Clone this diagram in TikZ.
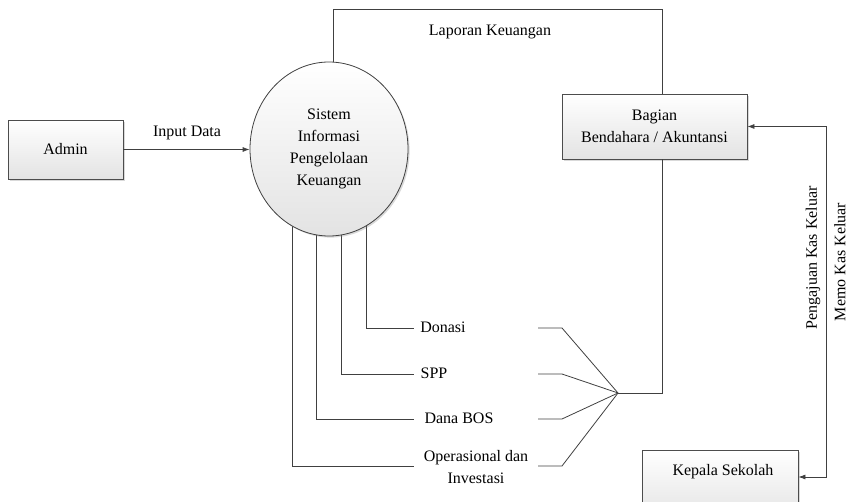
\documentclass[tikz,border=0pt]{standalone}
\usepackage{fontspec}
\setmainfont{Liberation Serif}
\usetikzlibrary{shapes.geometric,shadows,calc,arrows.meta,backgrounds}
\begin{document}
\begin{tikzpicture}[x=1pt,y=-1pt,
  every node/.style={font=\fontsize{16}{22}\selectfont},
  flow/.style={draw=black!75, line width=0.8pt},
  tip/.style={-{Latex[length=7pt,width=5pt]}},
  tips/.style={{Latex[length=7pt,width=5pt]}-{Latex[length=7pt,width=5pt]}},
  shade/.style={top color=white, bottom color=black!11,
    drop shadow={shadow xshift=1.6pt, shadow yshift=-1.6pt, opacity=0.3}},
  box/.style={rectangle, draw=black!70, line width=0.8pt, shade, inner sep=0pt, align=center},
  proc/.style={ellipse, draw=black!75, line width=0.8pt, shade, inner sep=0pt, align=center},
  lbl/.style={inner sep=0pt, align=center},
]
\useasboundingbox (0,0) rectangle (854,502);
\clip (0,0) rectangle (854,502);

% entities and process
\node[box, minimum width=115pt, minimum height=59pt] (admin) at (65.5,149.5) {Admin};
\node[proc, minimum width=158pt, minimum height=174pt] (sis) at (329,149)
  {Sistem\\Informasi\\Pengelolaan\\Keuangan};
\node[box, minimum width=185pt, minimum height=65pt] (bagian) at (654.5,126.5)
  {Bagian\\Bendahara / Akuntansi};
\node[box, minimum width=156pt, minimum height=70pt, anchor=north] (kepala) at (720,450) {};
\node[lbl] (kepalatxt) at (723,472) {Kepala Sekolah};

% input flow
\draw[flow,tip] (admin.east) -- (sis.west |- admin.east);
\node[lbl] (inputlbl) at (187,133) {Input Data};

% report flow over the top
\coordinate (lapR) at ($(bagian.north)+(7.5,0)$);
\draw[flow] ($(sis.north)+(4,0)$) -- ++(0,-52) -| (lapR);
\node[lbl] (laplbl) at (490,32) {Laporan Keuangan};

% free ends of the fund flows
\coordinate (donL) at (414,328);
\coordinate (sppL) at (414,374);
\coordinate (bosL) at (414,419);
\coordinate (opsL) at (414,466);
\coordinate (donR) at (538,328);
\coordinate (sppR) at (538,374);
\coordinate (bosR) at (538,419);
\coordinate (opsR) at (538,466);
\coordinate (jn) at (618,393);

\node[lbl] (donlbl) at (443,327) {Donasi};
\node[lbl] (spplbl) at (434,373) {SPP};
\node[lbl] (boslbl) at (459,418) {Dana BOS};
\node[lbl] (opslbl) at (476,467) {Operasional dan\\Investasi};

\begin{scope}[on background layer]
  \draw[flow] ($(sis.center)+(37,0)$) |- (donL);
  \draw[flow] ($(sis.center)+(12,0)$) |- (sppL);
  \draw[flow] ($(sis.center)+(-13,0)$) |- (bosL);
  \draw[flow] ($(sis.center)+(-37,0)$) |- (opsL);
\end{scope}

\draw[flow] (donR) -- ++(24,0) -- (jn);
\draw[flow] (sppR) -- ++(24,0) -- (jn);
\draw[flow] (bosR) -- ++(24,0) -- (jn);
\draw[flow] (opsR) -- ++(24,0) -- (jn);
\coordinate (lapB) at ($(bagian.south)+(7.5,0)$);
\draw[flow] (jn) -| (lapB);

% cash-out flows between bendahara and kepala sekolah
\coordinate (kepR) at ($(kepala.north east)+(0,27)$);
\draw[flow,tips] (bagian.east) -- ++(79,0) |- (kepR);
\node[lbl, rotate=90] (pengajuan) at (813,258) {Pengajuan Kas Keluar};
\node[lbl, rotate=90] (memo) at (840,262) {Memo Kas Keluar};
\end{tikzpicture}
\end{document}
